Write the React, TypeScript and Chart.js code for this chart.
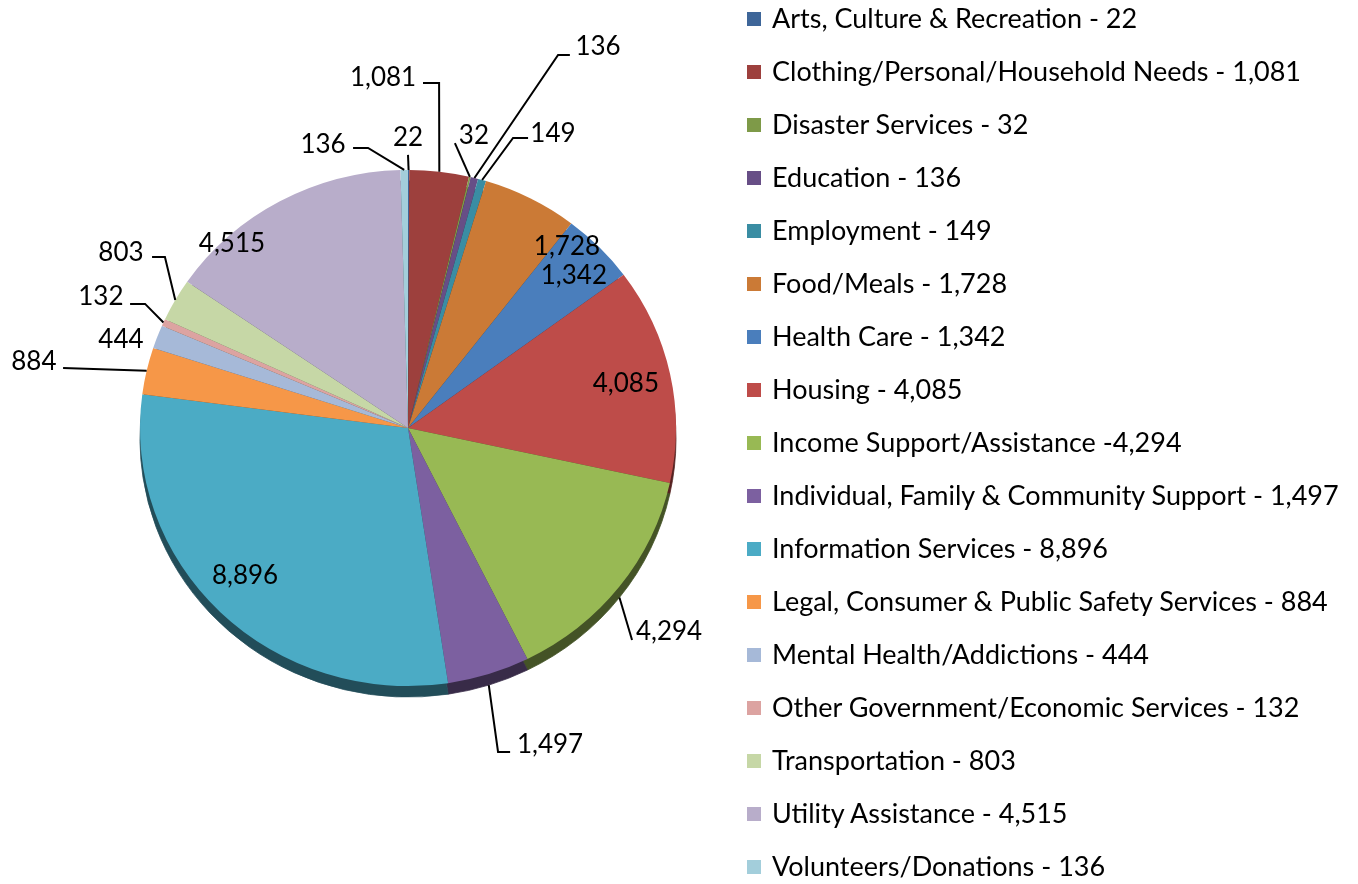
import React, { useEffect, useRef } from "react";
import { Chart, registerables } from "chart.js";

Chart.register(...registerables);

// ---------- data ----------
const categories = [
  "Arts, Culture & Recreation",
  "Clothing/Personal/Household Needs",
  "Disaster Services",
  "Education",
  "Employment",
  "Food/Meals",
  "Health Care",
  "Housing",
  "Income Support/Assistance",
  "Individual, Family & Community Support",
  "Information Services",
  "Legal, Consumer & Public Safety Services",
  "Mental Health/Addictions",
  "Other Government/Economic Services",
  "Transportation",
  "Utility Assistance",
  "Volunteers/Donations",
];
const values = [22, 1081, 32, 136, 149, 1728, 1342, 4085, 4294, 1497, 8896, 884, 444, 132, 803, 4515, 136];
// separator between name and value in the legend (the source has one without a space)
const legendSeparators = [" - ", " - ", " - ", " - ", " - ", " - ", " - ", " - ", " -", " - ", " - ", " - ", " - ", " - ", " - ", " - ", " - "];
const colors = [
  "#3E6699", "#9D403D", "#7E9A48", "#674E86", "#3A8DA3", "#CB7A36",
  "#4A7EBC", "#BE4C49", "#98B954", "#7C60A0", "#4BABC5", "#F69748",
  "#A6B9D8", "#DCA3A1", "#C6D7A6", "#B8ADCA", "#A3CEDB",
];

// ---------- label layout (in units of pie radius, relative to pie centre) ----------
type LabelSpec = { i: number; t: [number, number]; pts?: [number, number][] };
const labelLayout: LabelSpec[] = [
  { i: 0, t: [0.0, -1.086], pts: [[0.0, -1.019]] },
  { i: 1, t: [-0.093, -1.31], pts: [[0.116, -1.287], [0.056, -1.287]] },
  { i: 2, t: [0.246, -1.093], pts: [[0.175, -1.063]] },
  { i: 3, t: [0.709, -1.425], pts: [[0.56, -1.392], [0.604, -1.392]] },
  { i: 4, t: [0.541, -1.101], pts: [[0.392, -1.082], [0.448, -1.082]] },
  { i: 5, t: [0.593, -0.68] },
  { i: 6, t: [0.619, -0.571] },
  { i: 7, t: [0.813, -0.168] },
  { i: 8, t: [0.974, 0.757], pts: [[0.836, 0.791]] },
  { i: 9, t: [0.53, 1.179], pts: [[0.336, 1.209], [0.381, 1.209]] },
  { i: 10, t: [-0.608, 0.549] },
  { i: 11, t: [-1.396, -0.25], pts: [[-1.287, -0.224]] },
  { i: 12, t: [-1.071, -0.332] },
  { i: 13, t: [-1.146, -0.493], pts: [[-0.981, -0.463], [-1.037, -0.463]] },
  { i: 14, t: [-1.071, -0.657], pts: [[-0.907, -0.638], [-0.955, -0.638]] },
  { i: 15, t: [-0.657, -0.69] },
  { i: 16, t: [-0.317, -1.06], pts: [[-0.149, -1.045], [-0.205, -1.045]] },
];

const FONT = "Lato, 'Open Sans', sans-serif";
const LABEL_SIZE = 26;
const SY = 0.963; // vertical squash of the tilted pie
const DEPTH = 11; // thickness of the pie side

const fmt = (v: number) => v.toLocaleString("en-US");

function shade(hex: string, f: number) {
  const n = parseInt(hex.slice(1), 16);
  const r = Math.round(((n >> 16) & 255) * f);
  const g = Math.round(((n >> 8) & 255) * f);
  const b = Math.round((n & 255) * f);
  return `rgb(${r},${g},${b})`;
}

const pie3d = {
  id: "pie3d",
  beforeDatasetsDraw(chart: any) {
    const meta = chart.getDatasetMeta(0);
    const a0 = meta.data[0];
    const cx = a0.x;
    const cy = a0.y;
    const ctx = chart.ctx as CanvasRenderingContext2D;
    ctx.save();
    ctx.translate(cx, cy);
    ctx.scale(1, SY);
    ctx.translate(-cx, -cy);
    ctx.save();
    ctx.translate(0, DEPTH / SY);
    meta.data.forEach((a: any, i: number) => {
      const p = a.getProps(["startAngle", "endAngle", "outerRadius"], true);
      ctx.beginPath();
      ctx.moveTo(cx, cy);
      ctx.arc(cx, cy, p.outerRadius, p.startAngle, p.endAngle);
      ctx.closePath();
      ctx.fillStyle = shade(colors[i], 0.45);
      ctx.fill();
      ctx.strokeStyle = shade(colors[i], 0.45);
      ctx.lineWidth = 0.8;
      ctx.stroke();
    });
    ctx.restore();
  },
  afterDatasetsDraw(chart: any) {
    const ctx = chart.ctx as CanvasRenderingContext2D;
    ctx.restore();
    const meta = chart.getDatasetMeta(0);
    const a0 = meta.data[0];
    const cx = a0.x;
    const cy = a0.y;
    const r = a0.outerRadius;
    ctx.save();
    ctx.font = `${LABEL_SIZE}px ${FONT}`;
    ctx.textAlign = "center";
    ctx.textBaseline = "alphabetic";
    ctx.fillStyle = "#000";
    ctx.strokeStyle = "#000";
    ctx.lineWidth = 2;
    ctx.lineJoin = "miter";
    labelLayout.forEach((L) => {
      const a = meta.data[L.i];
      const p = a.getProps(["startAngle", "endAngle"], true);
      const mid = (p.startAngle + p.endAngle) / 2;
      if (L.pts && L.pts.length) {
        let sx = cx + r * Math.cos(mid);
        let sy = cy + r * SY * Math.sin(mid);
        if (Math.sin(mid) > 0.2) sy += DEPTH;
        ctx.beginPath();
        ctx.moveTo(sx, sy);
        L.pts.forEach(([ux, uy]) => ctx.lineTo(cx + ux * r, cy + uy * r));
        ctx.stroke();
      }
      const tx = cx + L.t[0] * r;
      const ty = cy + L.t[1] * r + 0.36 * LABEL_SIZE;
      ctx.fillText(fmt(values[L.i]), tx, ty);
    });
    ctx.restore();
  },
};

const LEGEND_SIZE = 27;

export default function App() {
  const ref = useRef<HTMLCanvasElement | null>(null);
  useEffect(() => {
    if (!ref.current) return;
    const chart = new Chart(ref.current, {
      type: "pie",
      data: {
        labels: categories,
        datasets: [
          {
            data: values,
            backgroundColor: colors,
            borderWidth: 0,
            hoverOffset: 0,
            offset: 0,
            clip: false,
          } as any,
        ],
      },
      options: {
        animation: false,
        responsive: false,
        events: [],
        layout: { padding: { left: 140, right: 682, top: 160, bottom: 188 } },
        plugins: { legend: { display: false }, tooltip: { enabled: false } },
      },
      plugins: [pie3d],
    });
    return () => chart.destroy();
  }, []);

  return (
    <div style={{ position: "absolute", left: 0, top: 0, width: 1358, height: 884, background: "#fff", overflow: "hidden" }}>
      <canvas ref={ref} width={1358} height={884} style={{ position: "absolute", left: 0, top: 0 }} />
      {categories.map((c, i) => {
        const capCenter = 19 + 53 * i;
        return (
          <div key={c} style={{ position: "absolute", left: 0, top: 0 }}>
            <div
              style={{
                position: "absolute",
                left: 747,
                top: capCenter - 7,
                width: 14,
                height: 14,
                background: colors[i],
              }}
            />
            <div
              style={{
                position: "absolute",
                left: 772,
                top: capCenter - 0.629 * LEGEND_SIZE,
                fontFamily: FONT,
                fontSize: LEGEND_SIZE,
                lineHeight: "1.2",
                whiteSpace: "nowrap",
                color: "#000",
              }}
            >
              {c + legendSeparators[i] + fmt(values[i])}
            </div>
          </div>
        );
      })}
    </div>
  );
}
